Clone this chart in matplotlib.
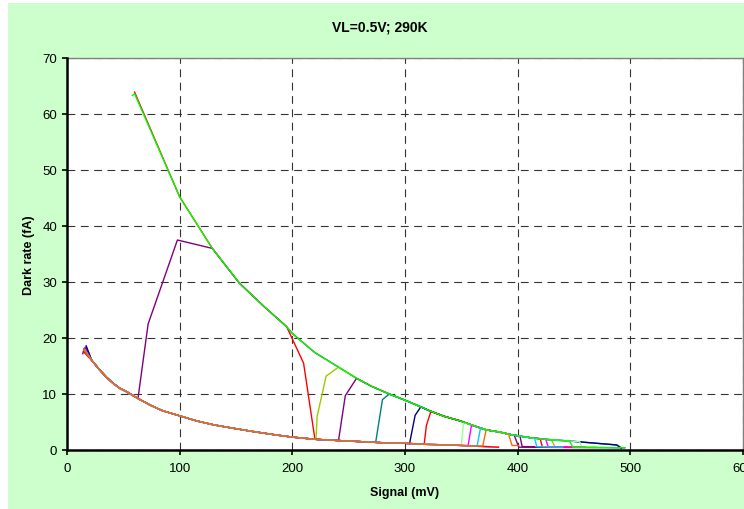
import numpy as np
import matplotlib
matplotlib.use("Agg")
import matplotlib.pyplot as plt
from matplotlib.patches import Rectangle

# ── Data ─────────────────────────────────────────────────────────────────────

# upper branch (signal counted as "dark" events)
UPPER_X = [60, 100, 129, 153, 175, 195, 200, 220, 241, 257, 270, 286, 300, 314,
           323, 335, 349, 360, 372, 384, 395, 411, 425, 446, 470, 488]
UPPER_Y = [63.6, 45.2, 36.0, 29.8, 25.6, 22.0, 20.8, 17.4, 14.8, 12.8, 11.4, 10.0,
           8.9, 7.7, 6.9, 6.0, 5.2, 4.4, 3.6, 3.2, 2.7, 2.2, 1.9, 1.6, 1.2, 0.9]

# lower branch
LOWER_X = [15, 22, 29, 35, 41, 47, 53, 63, 74, 85, 100, 115, 130, 147, 165, 185,
           200, 221, 240, 260, 280, 300, 320, 340, 360, 383]
LOWER_Y = [18.0, 16.0, 14.3, 13.0, 11.9, 11.0, 10.4, 9.2, 8.0, 7.0, 6.1, 5.2, 4.5,
           3.9, 3.3, 2.7, 2.3, 1.9, 1.7, 1.5, 1.3, 1.2, 1.0, 0.9, 0.7, 0.5]

# every series: explicit points plus ("up"/"low", a, b) = part of a branch
SERIES_COLORS = ["#FF99CC", "#FFCC00", "#3366FF", "#CC99FF",
                 "#FF0000", "#800080", "#99CC00", "#800080", "#008080",
                 "#000080", "#FF0000", "#99FF99", "#FF00FF", "#00CCFF",
                 "#FF6600", "#00FF00"]
SERIES_PATHS = [
    [(16, 18.2), ("low", 16, 280), (280, 1.3)],
    [(15, 17.9), ("low", 15, 330), (330, 0.9)],
    [(17, 18.4), ("low", 17, 376), (376, 0.6)],
    [(15, 17.6), ("low", 15, 383), (383, 0.5)],
    [(60, 63.9), ("up", 60, 195), (195, 22.0), (210, 15.5), (220, 2.0),
     ("low", 220, 383), (383, 0.5)],
    [(14, 17.2), ("low", 14, 63), (63, 9.2), (72, 22.5), (98, 37.5), (129, 36.0),
     ("up", 129, 397), (397, 2.6), (401, 0.5), (495, 0.4)],
    [(15, 17.8), ("low", 15, 221), (221, 1.9), (222, 6.0), (230, 13.2), (241, 14.8),
     ("up", 241, 430), (430, 1.8), (433, 0.6), (470, 0.5)],
    [(16, 18.3), ("low", 16, 241), (241, 1.7), (247, 9.7), (257, 12.8),
     ("up", 257, 402), (402, 2.5), (404, 0.6), (415, 0.6)],
    [(15, 18.0), ("low", 15, 274), (274, 1.4), (280, 9.0), (286, 10.0),
     ("up", 286, 489), (492, 0.4)],
    [(17, 18.6), ("low", 17, 304), (304, 1.1), (309, 6.2), (314, 7.7),
     ("up", 314, 489), (492, 0.3)],
    [(15, 17.5), ("low", 15, 317), (317, 1.0), (319, 4.4), (323, 6.9),
     ("up", 323, 420), (420, 2.0), (422, 0.5), (449, 0.5)],
    [(16, 17.9), ("low", 16, 350), (350, 0.8), (352, 4.9),
     ("up", 352, 455), (455, 1.5), (457, 0.5), (480, 0.4)],
    [(15, 18.1), ("low", 15, 356), (356, 0.8), (359, 4.4),
     ("up", 359, 425), (425, 1.9), (427, 0.6), (460, 0.5)],
    [(16, 17.7), ("low", 16, 364), (364, 0.7), (367, 3.9),
     ("up", 367, 415), (415, 2.1), (417, 0.6), (440, 0.5)],
    [(15, 18.0), ("low", 15, 369), (369, 0.7), (372, 3.6),
     ("up", 372, 392), (392, 2.8), (395, 0.8), (401, 0.8)],
    [(58, 63.3), ("up", 58, 446), (446, 1.6), (449, 0.5), (495, 0.4)],
]

X_TICKS = [0, 100, 200, 300, 400, 500, 600]
Y_TICKS = [0, 10, 20, 30, 40, 50, 60, 70]
TITLE = "VL=0.5V; 290K"


def expand(path):
    xs, ys = [], []
    for leg in path:
        if isinstance(leg[0], str):
            cx, cy = (UPPER_X, UPPER_Y) if leg[0] == "up" else (LOWER_X, LOWER_Y)
            for x, y in zip(cx, cy):
                if leg[1] < x < leg[2]:
                    xs.append(x)
                    ys.append(y)
        else:
            xs.append(leg[0])
            ys.append(leg[1])
    return xs, ys


# ── Plot ──────────────────────────────────────────────────────────────────────

plt.rcParams["font.family"] = ["Liberation Sans", "DejaVu Sans"]

fig = plt.figure(figsize=(7.44, 5.10), dpi=100, facecolor="white")
bg = Rectangle((8 / 744, 0), 1, 506 / 510, transform=fig.transFigure,
               facecolor="#CCFFCC", edgecolor="none", zorder=-10)
fig.add_artist(bg)

ax = fig.add_axes([67 / 744, 1 - 451 / 510, 676 / 744, 392 / 510])
ax.set_zorder(1)
ax.set_facecolor("white")

for color, path in zip(SERIES_COLORS, SERIES_PATHS):
    xs, ys = expand(path)
    ax.plot(xs, ys, color=color, linewidth=1.0, zorder=3)

ax.set_xlim(0, 600)
ax.set_ylim(0, 70)
ax.set_xticks(X_TICKS)
ax.set_yticks(Y_TICKS)
ax.tick_params(labelsize=9.5, length=3.5, width=1.2, direction="out")
ax.tick_params(axis="x", pad=5)
ax.tick_params(axis="y", pad=3.5)

ax.grid(True, color="#333333", linestyle=(0, (7, 5)), linewidth=0.8, zorder=1)

for side in ("left", "bottom"):
    ax.spines[side].set_linewidth(1.8)
    ax.spines[side].set_color("black")
    ax.spines[side].set_zorder(4)
for side in ("top", "right"):
    ax.spines[side].set_linewidth(1.0)
    ax.spines[side].set_color("#808080")

ax.set_xlabel("Signal (mV)", fontsize=9, fontweight="bold", labelpad=9)
ax.set_ylabel("Dark rate (fA)", fontsize=9, fontweight="bold", labelpad=5)
fig.text(0.51, 0.947, TITLE, ha="center", va="center", fontsize=10, fontweight="bold")

fig.savefig("out.png", dpi=100, facecolor=fig.get_facecolor())
